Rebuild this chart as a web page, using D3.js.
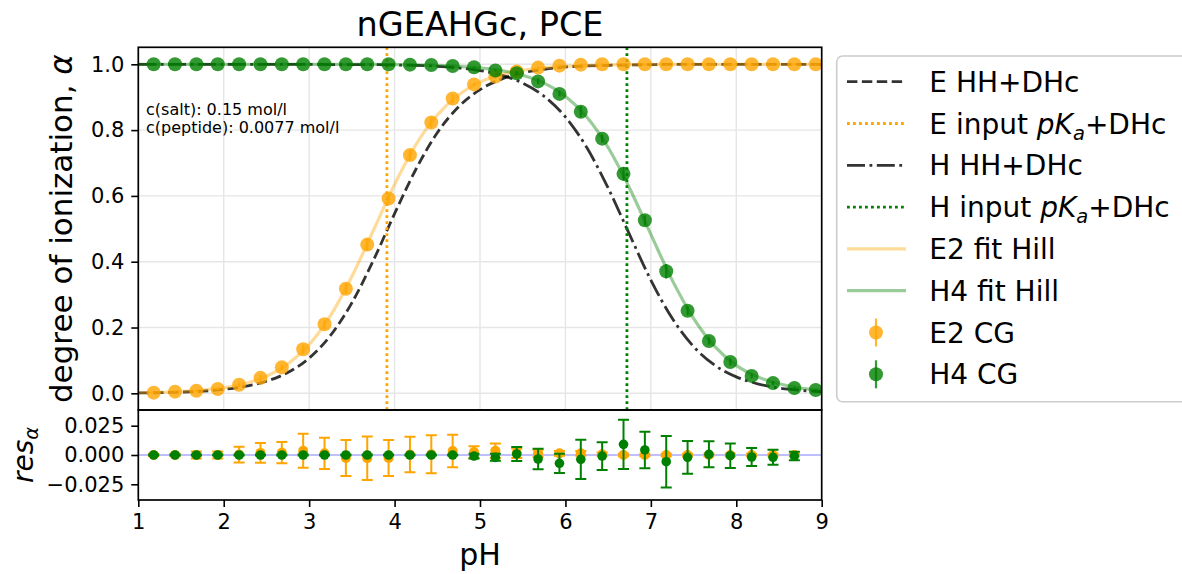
<!DOCTYPE html>
<html>
<head>
<meta charset="utf-8">
<script src="https://cdn.jsdelivr.net/npm/d3@7"></script>
<style>
	html, body { margin: 0; padding: 0; background: #fff; }
	svg { display: block; font-family: 'DejaVu Sans', sans-serif; }
</style>
</head>
<body>
<div id="chart"></div>
<script>
// Simulation points (CG) and their errors
const pH = [1.18, 1.43, 1.68, 1.93, 2.18, 2.43, 2.68, 2.93, 3.18, 3.43, 3.68, 3.93, 4.18, 4.43, 4.68, 4.93,
	5.18, 5.43, 5.68, 5.93, 6.18, 6.43, 6.68, 6.93, 7.18, 7.43, 7.68, 7.93, 8.18, 8.43, 8.68, 8.93];
const e2Alpha = [0.002, 0.005, 0.008, 0.013, 0.026, 0.047, 0.079, 0.134, 0.210, 0.318, 0.452, 0.592, 0.724, 0.823, 0.896, 0.939,
	0.963, 0.978, 0.990, 0.996, 0.999, 1.0, 1.0, 1.0, 1.0, 1.0, 1.0, 1.0, 1.0, 1.0, 1.0, 1.0];
const h4Alpha = [1.0, 1.0, 1.0, 1.0, 1.0, 1.0, 1.0, 1.0, 1.0, 1.0, 1.0, 1.0, 0.999, 0.998, 0.995, 0.991,
	0.981, 0.973, 0.948, 0.910, 0.856, 0.774, 0.667, 0.526, 0.371, 0.251, 0.159, 0.095, 0.053, 0.031, 0.016, 0.010];
const e2Err = [0.001, 0.001, 0.003, 0.003, 0.0067, 0.0084, 0.0091, 0.0145, 0.0133, 0.0153, 0.0185, 0.0153, 0.0152, 0.0162, 0.0139, 0.005,
	0.0062, 0.004, 0.003, 0.002, 0.002, 0.0015, 0.001, 0.001, 0.001, 0.001, 0.001, 0.001, 0.001, 0.001, 0.001, 0.001];
const h4Err = [0.0005, 0.0005, 0.0005, 0.0005, 0.0005, 0.0005, 0.0005, 0.0005, 0.0005, 0.0005, 0.0005, 0.0005, 0.0005, 0.0005, 0.0005, 0.002,
	0.003, 0.006, 0.0087, 0.0082, 0.0168, 0.0118, 0.021, 0.0155, 0.022, 0.0139, 0.0111, 0.0105, 0.0077, 0.0064, 0.0036, 0.003];

// Residuals (first 31 points)
const e2Res = [0, 0, 0, 0, 0.0004, 0.0018, 0.002, 0.0037, 0.0014, -0.0026, -0.0028, -0.0026, 0.0004, 0.0006, 0.0034, 0.0025,
	0.0037, 0.0014, 0.0014, 0.0014, 0.0014, 0.0006, 0, 0, 0, 0, 0, 0, 0, 0, 0];
const h4Res = [0, 0, 0, 0, 0, 0, 0, 0, 0, 0, 0, 0, 0, 0, 0, -0.0009,
	-0.002, 0.0009, -0.0034, -0.0071, -0.0037, -0.0009, 0.0091, 0.0043, -0.0057, -0.002, 0.0006, -0.0006, -0.0017, -0.002, -0.0009];

// Curves, sampled every 0.25 pH
const curvePH = [1.0, 1.25, 1.5, 1.75, 2.0, 2.25, 2.5, 2.75, 3.0, 3.25, 3.5, 3.75, 4.0, 4.25, 4.5, 4.75, 5.0,
	5.25, 5.5, 5.75, 6.0, 6.25, 6.5, 6.75, 7.0, 7.25, 7.5, 7.75, 8.0, 8.25, 8.5, 8.75, 9.0];
const eHH = [0.0012, 0.0021, 0.0038, 0.0067, 0.0119, 0.0209, 0.0366, 0.0633, 0.107, 0.176, 0.275, 0.403, 0.546, 0.681, 0.792, 0.871, 0.923,
	0.955, 0.974, 0.985, 0.992, 0.995, 0.997, 0.998, 0.999, 1.0, 1.0, 1.0, 1.0, 1.0, 1.0, 1.0, 1.0];
const hHH = [1.0, 1.0, 1.0, 1.0, 1.0, 1.0, 1.0, 1.0, 1.0, 0.999, 0.999, 0.999, 0.998, 0.997, 0.994, 0.989, 0.981,
	0.967, 0.943, 0.903, 0.840, 0.747, 0.624, 0.483, 0.344, 0.228, 0.142, 0.085, 0.050, 0.029, 0.016, 0.0092, 0.0052];
const e2Fit = [0.0017, 0.0031, 0.0055, 0.0097, 0.0171, 0.030, 0.0521, 0.089, 0.148, 0.236, 0.355, 0.494, 0.635, 0.756, 0.846, 0.907, 0.946,
	0.969, 0.982, 0.990, 0.994, 0.997, 0.998, 0.999, 0.999, 1.0, 1.0, 1.0, 1.0, 1.0, 1.0, 1.0, 1.0];
const h4Fit = [1.0, 1.0, 1.0, 1.0, 1.0, 1.0, 1.0, 1.0, 1.0, 1.0, 1.0, 1.0, 0.999, 0.998, 0.997, 0.994, 0.989,
	0.981, 0.967, 0.943, 0.903, 0.840, 0.747, 0.624, 0.483, 0.344, 0.228, 0.142, 0.085, 0.050, 0.029, 0.016, 0.0092];

// Input pKa (vertical lines)
const ePKa = 3.91;
const hPKa = 6.72;

const xTicks = [1, 2, 3, 4, 5, 6, 7, 8, 9];
const yTicks = [0, 0.2, 0.4, 0.6, 0.8, 1.0];
const resTicks = [-0.025, 0, 0.025];
const notes = ['c(salt): 0.15 mol/l', 'c(peptide): 0.0077 mol/l'];

const ORANGE = '#ffa500';
const GREEN = '#008000';
const DASHED = '10.4 4.5';
const DASHDOT = '18 4.5 2.8 4.5';
const DOTTED = '2.8 3.2';

const W = 1182, H = 574;
const pLeft = 138.3, pRight = 821.7, pTop = 47.3, pMid = 410, pBottom = 500;

const svg = d3.select('#chart').append('svg').attr('width', W).attr('height', H);

const x = d3.scaleLinear().domain([1, 9]).range([pLeft, pRight]);
const y = d3.scaleLinear().domain([-0.0507, 1.0517]).range([pMid, pTop]);
const yRes = d3.scaleLinear().domain([-0.0384, 0.0384]).range([pBottom, pMid]);

svg.append('clipPath').attr('id', 'clipMain')
	.append('rect').attr('x', pLeft).attr('y', pTop).attr('width', pRight - pLeft).attr('height', pMid - pTop);
svg.append('clipPath').attr('id', 'clipRes')
	.append('rect').attr('x', pLeft).attr('y', pMid).attr('width', pRight - pLeft).attr('height', pBottom - pMid);

// Grid in the main panel
const grid = svg.append('g').attr('stroke', '#e6e6e6').attr('stroke-width', 1.4);
grid.selectAll('.gx').data(xTicks).enter().append('line')
	.attr('x1', (d) => x(d)).attr('x2', (d) => x(d)).attr('y1', pTop).attr('y2', pMid);
grid.selectAll('.gy').data(yTicks).enter().append('line')
	.attr('x1', pLeft).attr('x2', pRight).attr('y1', (d) => y(d)).attr('y2', (d) => y(d));

const main = svg.append('g').attr('clip-path', 'url(#clipMain)');

const curveLine = (values) => d3.line()
	.x((d, i) => x(curvePH[i]))
	.y((d) => y(d))
	.curve(d3.curveMonotoneX)(values);

const drawVLine = (v, color) => main.append('line')
	.attr('x1', x(v)).attr('x2', x(v)).attr('y1', pTop).attr('y2', pMid)
	.attr('stroke', color).attr('stroke-width', 2.8).attr('stroke-dasharray', DOTTED);

// HH curves and input pKa lines
main.append('path').attr('d', curveLine(eHH))
	.attr('fill', 'none').attr('stroke', '#000').attr('stroke-opacity', 0.8)
	.attr('stroke-width', 2.8).attr('stroke-dasharray', DASHED);
drawVLine(ePKa, ORANGE);
main.append('path').attr('d', curveLine(hHH))
	.attr('fill', 'none').attr('stroke', '#000').attr('stroke-opacity', 0.8)
	.attr('stroke-width', 2.8).attr('stroke-dasharray', DASHDOT);
drawVLine(hPKa, GREEN);

// Hill fits
main.append('path').attr('d', curveLine(e2Fit))
	.attr('fill', 'none').attr('stroke', ORANGE).attr('stroke-opacity', 0.4).attr('stroke-width', 3.2);
main.append('path').attr('d', curveLine(h4Fit))
	.attr('fill', 'none').attr('stroke', GREEN).attr('stroke-opacity', 0.4).attr('stroke-width', 3.2);

// CG points with error bars
const drawPoints = (vals, errs, color) => {
	const g = main.append('g');
	const pts = pH.map((p, i) => ({ p, v: vals[i], e: errs[i] }));
	g.selectAll('line').data(pts).enter().append('line')
		.attr('x1', (d) => x(d.p)).attr('x2', (d) => x(d.p))
		.attr('y1', (d) => y(d.v - d.e)).attr('y2', (d) => y(d.v + d.e))
		.attr('stroke', color).attr('stroke-opacity', 0.8).attr('stroke-width', 2.2);
	g.selectAll('circle').data(pts).enter().append('circle')
		.attr('cx', (d) => x(d.p)).attr('cy', (d) => y(d.v)).attr('r', 7)
		.attr('fill', color).attr('fill-opacity', 0.8);
};
drawPoints(e2Alpha, e2Err, ORANGE);
drawPoints(h4Alpha, h4Err, GREEN);

// Concentration notes
svg.append('g').selectAll('text').data(notes).enter().append('text')
	.attr('x', 146).attr('y', (d, i) => 115 + i * 17.7)
	.attr('font-size', 16).attr('fill', '#000').text((d) => d);

// Residual panel
const res = svg.append('g').attr('clip-path', 'url(#clipRes)');
res.append('line').attr('x1', pLeft).attr('x2', pRight).attr('y1', yRes(0)).attr('y2', yRes(0))
	.attr('stroke', '#0000ff').attr('stroke-opacity', 0.5).attr('stroke-width', 1.2);

const drawResiduals = (vals, errs, color, r) => {
	const g = res.append('g').attr('stroke', color).attr('stroke-width', 2);
	const pts = vals.map((v, i) => ({ p: pH[i], v, e: errs[i] }));
	const cap = 5.5;
	g.selectAll('.eb').data(pts).enter().append('line')
		.attr('x1', (d) => x(d.p)).attr('x2', (d) => x(d.p))
		.attr('y1', (d) => yRes(d.v - d.e)).attr('y2', (d) => yRes(d.v + d.e));
	g.selectAll('.ct').data(pts).enter().append('line')
		.attr('x1', (d) => x(d.p) - cap).attr('x2', (d) => x(d.p) + cap)
		.attr('y1', (d) => yRes(d.v + d.e)).attr('y2', (d) => yRes(d.v + d.e));
	g.selectAll('.cb').data(pts).enter().append('line')
		.attr('x1', (d) => x(d.p) - cap).attr('x2', (d) => x(d.p) + cap)
		.attr('y1', (d) => yRes(d.v - d.e)).attr('y2', (d) => yRes(d.v - d.e));
	g.selectAll('circle').data(pts).enter().append('circle')
		.attr('cx', (d) => x(d.p)).attr('cy', (d) => yRes(d.v)).attr('r', r)
		.attr('fill', color).attr('stroke', 'none');
};
drawResiduals(e2Res, e2Err, ORANGE, 5);
drawResiduals(h4Res, h4Err, GREEN, 4.8);

// Axes
const styleAxis = (g) => {
	g.selectAll('.domain').remove();
	g.selectAll('.tick line').attr('stroke', '#000').attr('stroke-width', 1.6);
	g.selectAll('.tick text').attr('font-size', 21).attr('font-family', 'DejaVu Sans').attr('fill', '#000');
};
svg.append('g').attr('transform', `translate(0,${pBottom})`)
	.call(d3.axisBottom(x).tickValues(xTicks).tickFormat(d3.format('d')).tickSize(7).tickPadding(7))
	.call(styleAxis);
svg.append('g').attr('transform', `translate(${pLeft},0)`)
	.call(d3.axisLeft(y).tickValues(yTicks).tickFormat(d3.format('.1f')).tickSize(7).tickPadding(7))
	.call(styleAxis);
svg.append('g').attr('transform', `translate(${pLeft},0)`)
	.call(d3.axisLeft(yRes).tickValues(resTicks).tickFormat(d3.format('.3f')).tickSize(7).tickPadding(7))
	.call(styleAxis);

// Spines
[[pTop, pMid], [pMid, pBottom]].forEach(([a, b]) => {
	svg.append('rect').attr('x', pLeft).attr('y', a).attr('width', pRight - pLeft).attr('height', b - a)
		.attr('fill', 'none').attr('stroke', '#000').attr('stroke-width', 1.7);
});

// Labels
svg.append('text').attr('x', (pLeft + pRight) / 2).attr('y', 36).attr('text-anchor', 'middle')
	.attr('font-size', 33.5).text('nGEAHGc, PCE');
svg.append('text').attr('x', (pLeft + pRight) / 2).attr('y', 565).attr('text-anchor', 'middle')
	.attr('font-size', 30).text('pH');
svg.append('text').attr('transform', `translate(72,${(pTop + pMid) / 2}) rotate(-90)`)
	.attr('text-anchor', 'middle').attr('font-size', 31)
	.call((t) => {
		t.append('tspan').text('degree of ionization, ');
		t.append('tspan').attr('font-style', 'italic').text('α');
	});
const resLabel = svg.append('text').attr('transform', `translate(33,${(pMid + pBottom) / 2}) rotate(-90)`)
	.attr('text-anchor', 'middle').attr('font-size', 28);
resLabel.append('tspan').attr('font-style', 'italic').text('res');
resLabel.append('tspan').attr('font-style', 'italic').attr('font-size', 19.5).attr('dy', 5).text('α');

// Legend
const legendItems = [
	{ label: ['E HH+DHc'], type: 'line', color: '#000', opacity: 0.8, dash: DASHED, width: 2.8 },
	{ label: ['E input ', 'pK', 'a', '+DHc'], type: 'line', color: ORANGE, opacity: 1, dash: DOTTED, width: 2.8 },
	{ label: ['H HH+DHc'], type: 'line', color: '#000', opacity: 0.8, dash: DASHDOT, width: 2.8 },
	{ label: ['H input ', 'pK', 'a', '+DHc'], type: 'line', color: GREEN, opacity: 1, dash: DOTTED, width: 2.8 },
	{ label: ['E2 fit Hill'], type: 'line', color: ORANGE, opacity: 0.4, dash: null, width: 3.2 },
	{ label: ['H4 fit Hill'], type: 'line', color: GREEN, opacity: 0.4, dash: null, width: 3.2 },
	{ label: ['E2 CG'], type: 'point', color: ORANGE },
	{ label: ['H4 CG'], type: 'point', color: GREEN }
];
const legend = svg.append('g');
legend.append('rect').attr('x', 836.7).attr('y', 56).attr('width', 360).attr('height', 345.7).attr('rx', 6)
	.attr('fill', '#fff').attr('fill-opacity', 0.8).attr('stroke', '#cccccc').attr('stroke-width', 1.6);
legendItems.forEach((item, i) => {
	const cy = 81.7 + i * 41.8;
	if (item.type === 'line') {
		legend.append('line').attr('x1', 847).attr('x2', 906).attr('y1', cy).attr('y2', cy)
			.attr('stroke', item.color).attr('stroke-opacity', item.opacity).attr('stroke-width', item.width)
			.attr('stroke-dasharray', item.dash);
	} else {
		legend.append('line').attr('x1', 876).attr('x2', 876).attr('y1', cy - 14).attr('y2', cy + 14)
			.attr('stroke', item.color).attr('stroke-opacity', 0.8).attr('stroke-width', 2.2);
		legend.append('circle').attr('cx', 876).attr('cy', cy).attr('r', 7)
			.attr('fill', item.color).attr('fill-opacity', 0.8);
	}
	const t = legend.append('text').attr('x', 929.3).attr('y', cy).attr('dy', '0.36em').attr('font-size', 28);
	if (item.label.length === 1) {
		t.text(item.label[0]);
	} else {
		t.append('tspan').text(item.label[0]);
		t.append('tspan').attr('font-style', 'italic').text(item.label[1]);
		t.append('tspan').attr('font-style', 'italic').attr('font-size', 19.5).attr('dy', 6).text(item.label[2]);
		t.append('tspan').attr('dy', -6).text(item.label[3]);
	}
});
</script>
</body>
</html>
